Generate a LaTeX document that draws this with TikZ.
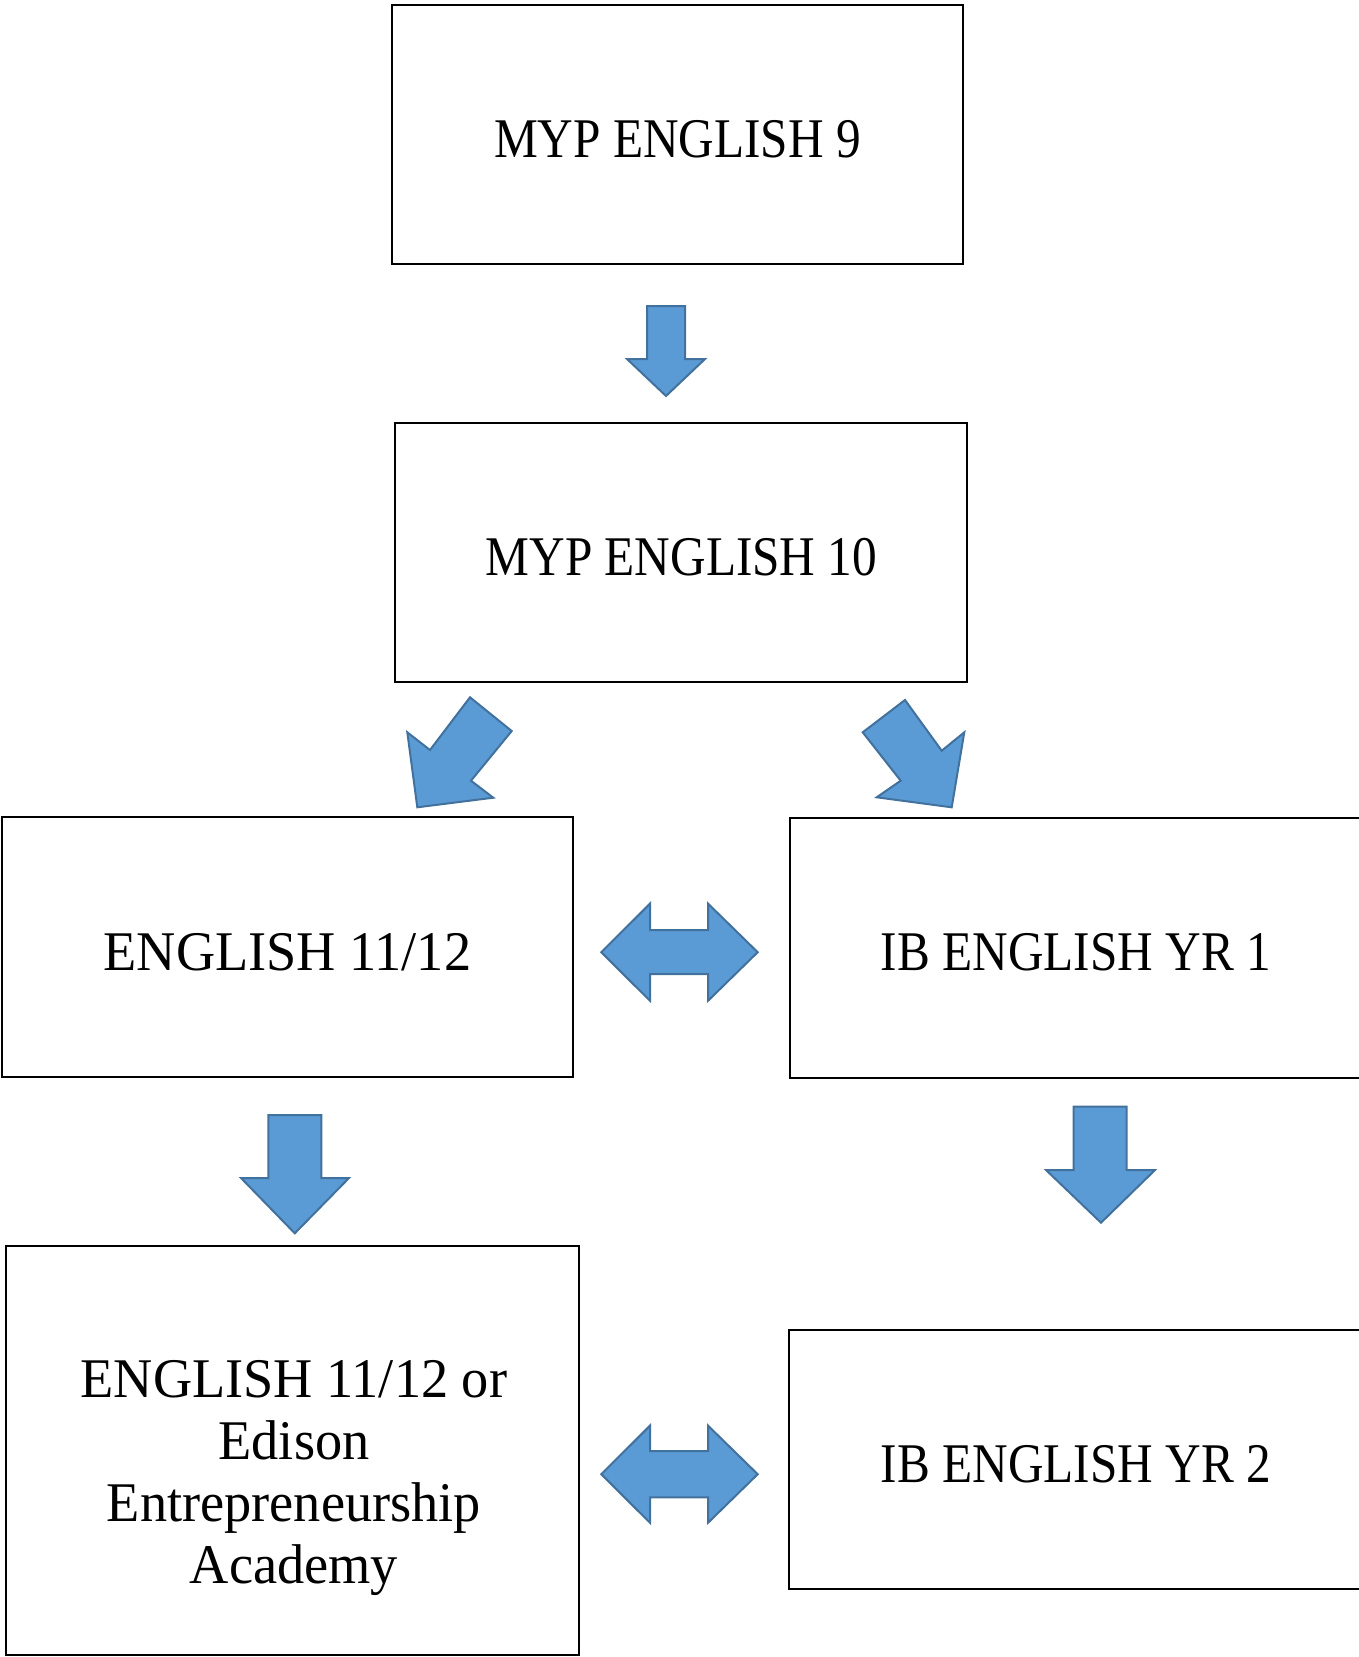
\documentclass[tikz,border=0pt]{standalone}
\usepackage{fontspec}
\setmainfont[FakeStretch=0.88]{Liberation Serif}
\newfontfamily\widefont[FakeStretch=0.97]{Liberation Serif}
\definecolor{arrowfill}{RGB}{91,155,213}
\definecolor{arrowline}{RGB}{65,113,156}
\begin{document}
\begin{tikzpicture}[x=1pt,y=-1pt,
  boxstyle/.style={draw=black, line width=2pt, rectangle, inner sep=0pt},
  txt/.style={font=\fontsize{56}{62}\selectfont, inner sep=0pt, anchor=base},
  blockarrow/.style={fill=arrowfill, draw=arrowline, line width=2pt, line join=miter}]
\useasboundingbox (0,0) rectangle (1359,1657);
% boxes
\node[boxstyle, minimum width=571pt, minimum height=259pt] (b1) at (677.5,134.5) {};
\node[boxstyle, minimum width=572pt, minimum height=259pt] (b2) at (681,552.5) {};
\node[boxstyle, minimum width=571pt, minimum height=260pt] (b3) at (287.5,947) {};
\node[boxstyle, minimum width=575pt, minimum height=260pt] (b4) at (1077.5,948) {};
\node[boxstyle, minimum width=573pt, minimum height=409pt] (b5) at (292.5,1450.5) {};
\node[boxstyle, minimum width=576pt, minimum height=259pt] (b6) at (1077,1459.5) {};
% texts
\node[txt] (t1) at (677.5,157.5) {MYP ENGLISH 9};
\node[txt] (t2) at (681.5,575) {MYP ENGLISH 10};
\node[txt, font=\widefont\fontsize{56}{62}\selectfont] (t3) at (287.5,970) {ENGLISH 11/12};
\node[txt] (t4) at (1076,970) {IB ENGLISH YR 1};
\node[txt] (t6) at (1076,1482.5) {IB ENGLISH YR 2};
\node[txt, font=\widefont\fontsize{56}{62}\selectfont, anchor=center, align=center] (t5) at (294,1478) {ENGLISH 11/12 or\\Edison\\Entrepreneurship\\Academy};
% down arrow 1
\draw[blockarrow] (647,306) -- (685,306) -- (685,359) -- (705,359) -- (666,396) -- (627,359) -- (647,359) -- cycle;
% diagonal arrows
\draw[blockarrow] (417.3,807.3) -- (407.3,732.3) -- (430,750) -- (470,697.3) -- (511.7,731) -- (471,780.7) -- (493.3,797.7) -- cycle;
\draw[blockarrow] (951.7,807.3) -- (876.7,797.3) -- (900.7,780.7) -- (862.7,732.3) -- (905,700) -- (941.7,750.7) -- (964.3,732.3) -- cycle;
% double arrows
\draw[blockarrow] (601.3,952.2) -- (650,903.6) -- (650,930) -- (708,930) -- (708,903.6) -- (757.7,952.2) -- (708,1000.8) -- (708,974) -- (650,974) -- (650,1000.8) -- cycle;
\draw[blockarrow] (601.3,1474.2) -- (650,1425.6) -- (650,1451) -- (708,1451) -- (708,1425.6) -- (757.7,1474.2) -- (708,1522.8) -- (708,1497.4) -- (650,1497.4) -- (650,1522.8) -- cycle;
% lower down arrows
\draw[blockarrow] (268.4,1115) -- (321.3,1115) -- (321.3,1178) -- (349,1178) -- (294.8,1233.3) -- (241,1178) -- (268.4,1178) -- cycle;
\draw[blockarrow] (1073.7,1106.5) -- (1126.5,1106.5) -- (1126.5,1170) -- (1155,1170) -- (1101,1222.7) -- (1046,1170) -- (1073.7,1170) -- cycle;
\end{tikzpicture}
\end{document}
